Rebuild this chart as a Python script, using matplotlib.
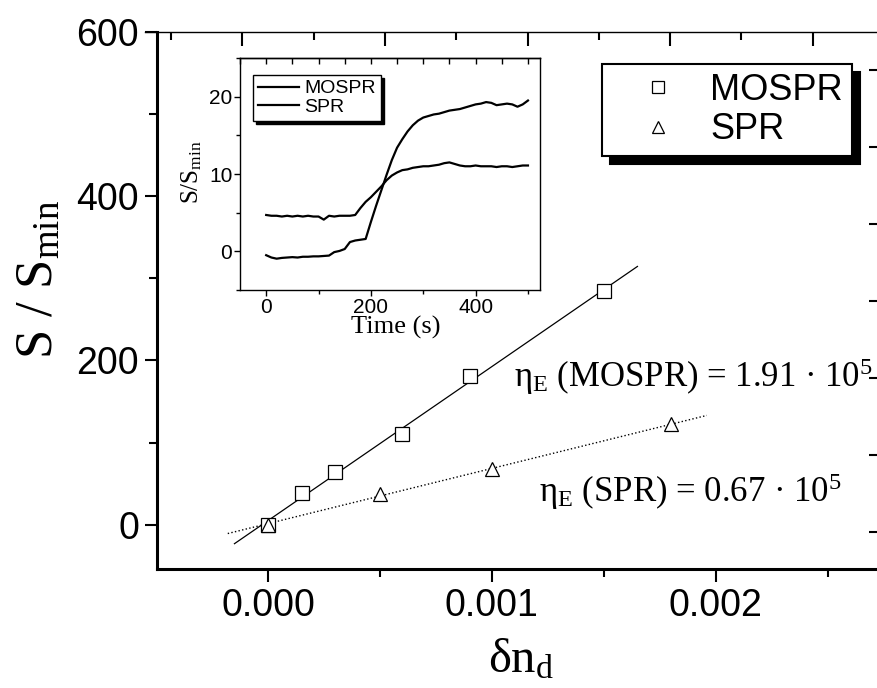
import numpy as np
import matplotlib
matplotlib.use('Agg')
import matplotlib.pyplot as plt
from matplotlib.ticker import MultipleLocator, NullFormatter
from matplotlib.patches import Shadow

W, H = 877, 688
SANS = ['Liberation Sans', 'DejaVu Sans']
SERIF = ['Liberation Serif', 'DejaVu Serif']

plt.rcParams['mathtext.fontset'] = 'custom'
plt.rcParams['mathtext.rm'] = 'Liberation Serif'
plt.rcParams['mathtext.it'] = 'Liberation Serif:italic'
plt.rcParams['font.family'] = SANS

# main plot: S/Smin vs delta n
dn_mospr = [0, 0.00015, 0.0003, 0.0006, 0.0009, 0.0015]
s_mospr = [0, 38, 64, 110, 181, 284]
dn_spr = [0, 0.0005, 0.001, 0.0018]
s_spr = [0, 37, 68, 122]
fit_span_mospr = [-0.00015, 0.00165]
fit_span_spr = [-0.00018, 0.00196]

# inset: time traces
t_s = [0, 10, 20, 30, 40, 50, 60, 70, 80, 90, 100, 110, 120, 130, 140, 150, 160,
       170, 180, 190, 200, 210, 220, 230, 240, 250, 260, 270, 280, 290, 300, 310,
       320, 330, 340, 350, 360, 370, 380, 390, 400, 410, 420, 430, 440, 450, 460,
       470, 480, 490, 500]
trace_mospr = [-0.5, -0.8, -0.95, -0.85, -0.8, -0.75, -0.8, -0.7, -0.7, -0.65, -0.65,
               -0.6, -0.55, -0.1, 0.05, 0.3, 1.2, 1.4, 1.5, 1.6, 3.8, 5.9, 7.9, 9.9,
               11.8, 13.4, 14.5, 15.5, 16.3, 16.9, 17.3, 17.5, 17.7, 17.8, 18.0, 18.2,
               18.3, 18.4, 18.6, 18.8, 19.0, 19.1, 19.3, 19.2, 18.9, 19.0, 19.1, 19.0,
               18.7, 19.0, 19.5]
trace_spr = [4.7, 4.6, 4.6, 4.5, 4.6, 4.5, 4.6, 4.5, 4.6, 4.5, 4.5, 4.1, 4.6, 4.5,
             4.6, 4.6, 4.6, 4.7, 5.6, 6.4, 7.0, 7.7, 8.4, 9.2, 9.8, 10.2, 10.5, 10.6,
             10.8, 10.9, 11.0, 11.0, 11.1, 11.2, 11.4, 11.5, 11.3, 11.1, 11.0, 11.0,
             11.1, 11.0, 11.0, 11.0, 10.9, 11.0, 11.0, 10.9, 11.0, 11.1, 11.1]


def fax(x0, y0, x1, y1):
    # pixel box (top-left origin) -> figure fraction rect
    return [x0 / W, 1 - y1 / H, (x1 - x0) / W, (y1 - y0) / H]


fig = plt.figure(figsize=(W / 100, H / 100), dpi=100)

ax = fig.add_axes(fax(157, 32, 877, 569))
ax.patch.set_visible(False)
for side in ['top', 'right']:
    ax.spines[side].set_visible(False)
for side in ['left', 'bottom']:
    ax.spines[side].set_linewidth(2.2)

c1 = np.polyfit(dn_mospr, s_mospr, 1)
c2 = np.polyfit(dn_spr, s_spr, 1)
ax.plot(fit_span_mospr, np.polyval(c1, fit_span_mospr), 'k-', lw=0.9, zorder=2)
ax.plot(fit_span_spr, np.polyval(c2, fit_span_spr), 'k:', lw=1.0, zorder=2)
h1, = ax.plot(dn_mospr, s_mospr, 's', mfc='white', mec='k', ms=9.5, mew=0.9,
              label='MOSPR', zorder=3)
h2, = ax.plot(dn_spr, s_spr, '^', mfc='white', mec='k', ms=10.5, mew=0.9,
              label='SPR', zorder=3)

ax.set_xlim(-0.000496, 0.00272)
ax.set_ylim(-54, 600)
ax.set_xticks([0, 0.001, 0.002])
ax.set_xticklabels(['0.000', '0.001', '0.002'])
ax.xaxis.set_minor_locator(MultipleLocator(0.0005))
ax.set_yticks([0, 200, 400, 600])
ax.yaxis.set_minor_locator(MultipleLocator(100))
ax.tick_params(which='both', direction='out', width=1.5, labelsize=27)
ax.tick_params(which='major', length=9)
ax.tick_params(which='minor', length=6)
ax.tick_params(axis='x', pad=5)
ax.tick_params(axis='y', pad=4)

ax.text(0.0011, 168, 'η$_\\mathrm{E}$ (MOSPR) = 1.91 · 10$^5$', family=SERIF,
        fontsize=25, ha='left', va='baseline')
ax.text(0.00121, 27, 'η$_\\mathrm{E}$ (SPR) = 0.67 · 10$^5$', family=SERIF,
        fontsize=25, ha='left', va='baseline')

fig.text(521 / W, 1 - 672 / H, 'δn$_\\mathrm{d}$', family=SERIF, fontsize=35,
         ha='center', va='baseline')
fig.text(40 / W, 1 - 280 / H, 'S / S$_\\mathrm{min}$', family=SERIF, fontsize=38,
         rotation=90, ha='center', va='center')

leg = ax.legend(handles=[h1, h2], loc='upper left',
                bbox_to_anchor=(602 / W, 1 - 64 / H), bbox_transform=fig.transFigure,
                borderaxespad=0, prop={'family': SANS, 'size': 26}, markerscale=0.85,
                fancybox=False, framealpha=1, edgecolor='k', borderpad=0.25,
                handlelength=2.6, handletextpad=0.15, labelspacing=0.12)
leg.get_frame().set_linewidth(1.5)

# outer frame: top line and right ticks
ax2 = fig.add_axes(fax(145, 32, 877, 569))
ax2.patch.set_visible(False)
for side in ['left', 'bottom', 'right']:
    ax2.spines[side].set_visible(False)
ax2.spines['top'].set_linewidth(1.0)
ax2.set_xlim((145 - 242.4) / 142.6, (877 - 242.4) / 142.6)
ax2.set_ylim(-0.48, (569 - 32) / 77 - 0.48)
ax2.xaxis.set_major_locator(MultipleLocator(1))
ax2.xaxis.set_minor_locator(MultipleLocator(0.5))
ax2.yaxis.set_major_locator(MultipleLocator(1))
ax2.tick_params(which='both', top=True, bottom=False, left=False, right=True,
                labeltop=False, labelbottom=False, labelleft=False, labelright=False,
                direction='in', width=1.5)
ax2.tick_params(axis='x', which='major', length=10)
ax2.tick_params(axis='x', which='minor', length=6)
ax2.tick_params(axis='y', which='major', length=6)

# inset
axi = fig.add_axes(fax(240, 58, 540, 290))
for s in axi.spines.values():
    s.set_linewidth(1.0)
l1, = axi.plot(t_s, trace_mospr, 'k-', lw=1.6, label='MOSPR')
l2, = axi.plot(t_s, trace_spr, 'k-', lw=1.6, label='SPR')
axi.set_xlim(-50, 523)
axi.set_ylim(-5, 25)
axi.set_xticks([0, 200, 400])
axi.xaxis.set_minor_locator(MultipleLocator(100))
axi.set_yticks([0, 10, 20])
axi.yaxis.set_minor_locator(MultipleLocator(5))
axi.tick_params(which='both', direction='out', width=1.0, labelsize=15, pad=1.5)
axi.tick_params(which='major', length=4)
axi.tick_params(which='minor', length=3)
sec = axi.secondary_xaxis('top')
sec.xaxis.set_major_locator(MultipleLocator(50))
sec.xaxis.set_major_formatter(NullFormatter())
sec.tick_params(direction='in', length=4, width=1.0)
sec.spines['top'].set_linewidth(1.0)

fig.text(396 / W, 1 - 334 / H, 'Time (s)', family=SERIF, fontsize=19,
         ha='center', va='baseline')
fig.text(192 / W, 1 - 172 / H, 'S/S$_\\mathrm{min}$', family=SERIF, fontsize=18,
         rotation=90, ha='center', va='center')

legi = axi.legend(handles=[l1, l2], loc='upper left',
                  bbox_to_anchor=(253 / W, 1 - 75 / H), bbox_transform=fig.transFigure,
                  borderaxespad=0, prop={'family': SANS, 'size': 14},
                  fancybox=False, framealpha=1, edgecolor='k', borderpad=0.25,
                  handlelength=2.1, handletextpad=0.3, labelspacing=0.05,
                  shadow={'facecolor': 'k', 'edgecolor': 'k', 'alpha': 1})
legi.get_frame().set_linewidth(1.0)

# heavy drop shadow behind the main legend
fig.canvas.draw()
sh = Shadow(leg.legendPatch, 5.5, -5.5, facecolor='k', edgecolor='k', alpha=1)
sh.set_zorder(leg.get_zorder() - 0.5)
sh.set_clip_on(False)
ax.add_artist(sh)

fig.savefig('out.png', dpi=100)
